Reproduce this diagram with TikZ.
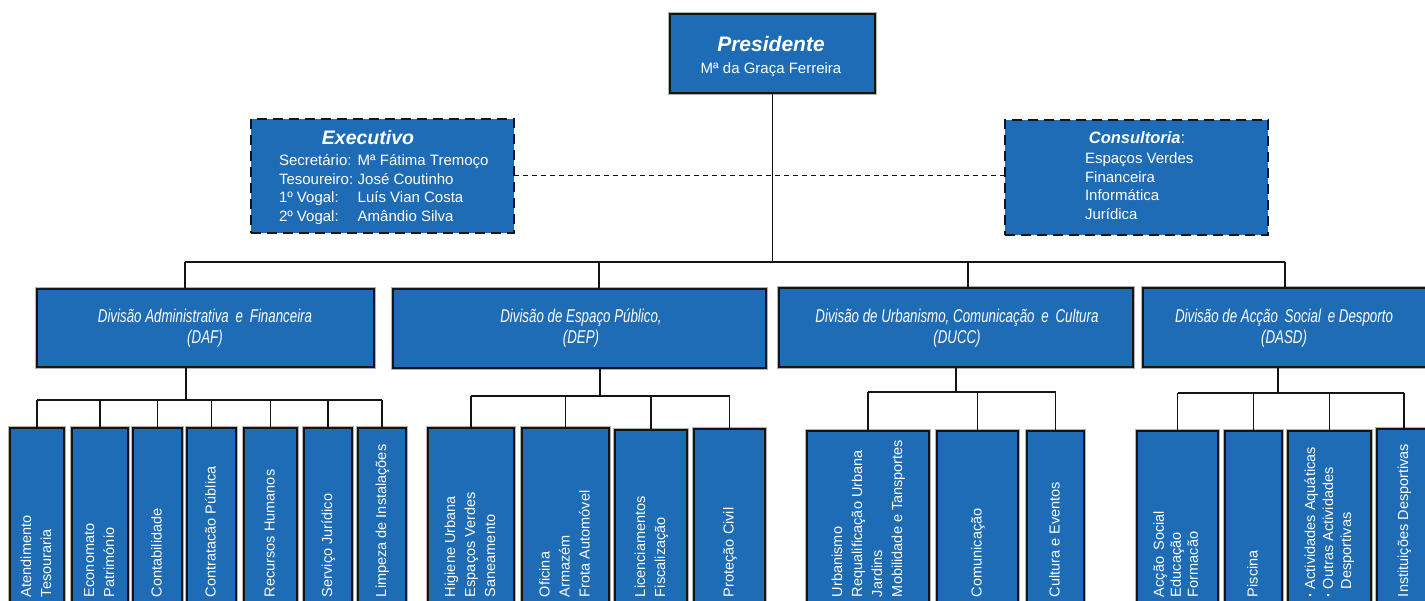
\documentclass[tikz,border=0pt]{standalone}
\usepackage{fontspec}
\setmainfont{Liberation Sans}
\newfontfamily\divfont[FakeStretch=0.72]{Liberation Sans}
\definecolor{boxblue}{RGB}{30,107,182}
\definecolor{linecol}{RGB}{20,20,20}
\tikzset{
  box/.style={fill=boxblue, draw=linecol, line width=1.1pt, outer sep=0pt, inner sep=0pt,
    anchor=north west, preaction={draw=gray!60, line width=3.2pt}},
  dbox/.style={fill=boxblue, draw=linecol, line width=2pt, dash pattern=on 10pt off 6pt,
    outer sep=0pt, inner sep=0pt, anchor=north west},
  conn/.style={draw=linecol, line width=1.7pt},
  dconn/.style={draw=linecol, line width=1pt, dash pattern=on 5pt off 4pt},
  wtext/.style={text=white, inner sep=0pt, outer sep=0pt},
  vtext/.style={wtext, rotate=90, anchor=west, font=\fontsize{14.5}{20}\selectfont},
  divtext/.style={wtext, font=\divfont\itshape\fontsize{18.5}{21}\selectfont}
}
\newcommand{\rl}[1]{\begin{tabular}{@{}l@{}}#1\end{tabular}}
\begin{document}
\begin{tikzpicture}[x=1pt,y=-1pt]
\useasboundingbox (0,0) rectangle (1425,601);
\clip (0,0) rectangle (1425,601);
\fill[white] (0,0) rectangle (1425,601);

% ---------- top level ----------
\node[box, minimum width=205pt, minimum height=79pt] (pres) at (670,14) {};
\node[wtext, font=\bfseries\itshape\fontsize{21}{25}\selectfont] (prest) at (771,44) {Presidente};
\node[wtext, font=\fontsize{15}{18}\selectfont] (presn) at (771,70) {Mª da Graça Ferreira};

\node[dbox, minimum width=263pt, minimum height=114pt] (exec) at (251,119) {};
\node[wtext, font=\bfseries\itshape\fontsize{19.5}{23}\selectfont] (exect) at (368,138) {Executivo};
\node[wtext, anchor=base west, font=\fontsize{15}{18.7}\selectfont] (execl) at (279,165.5)
  {\begin{tabular}[t]{@{}l@{\hspace{4.5pt}}l@{}}
   Secretário: & Mª Fátima Tremoço\\
   Tesoureiro: & José Coutinho\\
   1º Vogal: & Luís Vian Costa\\
   2º Vogal: & Amândio Silva
   \end{tabular}};

\node[dbox, minimum width=263pt, minimum height=115pt] (cons) at (1005,120) {};
\node[wtext, font=\fontsize{16.5}{20}\selectfont] (const) at (1137,138) {\textbf{\textit{Consultoria}}:};
\node[wtext, anchor=base west, font=\fontsize{15}{18.7}\selectfont] (consl) at (1085,163.5)
  {\begin{tabular}[t]{@{}l@{}}
   Espaços Verdes\\ Financeira\\ Informática\\ Jurídica
   \end{tabular}};

\draw[dconn] (exec.east) -- (exec.east -| cons.west);

% ---------- divisions ----------
\node[box, minimum width=337pt, minimum height=78pt] (daf) at (37,289) {};
\node[box, minimum width=373pt, minimum height=79pt] (dep) at (393,289) {};
\node[box, minimum width=354pt, minimum height=79pt] (ducc) at (779,288) {};
\node[box, minimum width=300pt, minimum height=79pt] (dasd) at (1143,288) {};

\node[divtext] (daft) at (205,328.5) {\begin{tabular}{@{}c@{}}Divisão Administrativa\, e\, Financeira\\(DAF)\end{tabular}};
\node[divtext] (dept) at (581,328.5) {\begin{tabular}{@{}c@{}}Divisão de Espaço Público,\\(DEP)\end{tabular}};
\node[divtext] (ducct) at (957,328.5) {\begin{tabular}{@{}c@{}}Divisão de Urbanismo, Comunicação\, e\, Cultura\\(DUCC)\end{tabular}};
\node[divtext] (dasdt) at (1284,328.5) {\begin{tabular}{@{}c@{}}Divisão de Acção\, Social\, e Desporto\\(DASD)\end{tabular}};

% main bus
\coordinate (bus) at (771,262);
\draw[conn] (pres.south) -- (pres.south |- bus);
\coordinate (t1) at (185,262);
\coordinate (t2) at (599,262);
\coordinate (t3) at (968,262);
\coordinate (t4) at (1285,262);
\draw[conn] (t1) -- (t4);
\draw[conn] (t1) -- (t1 |- daf.north);
\draw[conn] (t2) -- (t2 |- dep.north);
\draw[conn] (t3) -- (t3 |- ducc.north);
\draw[conn] (t4) -- (t4 |- dasd.north);

% ---------- DAF units ----------
\node[box, minimum width=54pt, minimum height=220pt] (a1) at (10,428) {};
\node[box, minimum width=56pt, minimum height=220pt] (a2) at (72,428) {};
\node[box, minimum width=49pt, minimum height=220pt] (a3) at (133,428) {};
\node[box, minimum width=49pt, minimum height=220pt] (a4) at (187,428) {};
\node[box, minimum width=53pt, minimum height=220pt] (a5) at (244,428) {};
\node[box, minimum width=48pt, minimum height=220pt] (a6) at (304,428) {};
\node[box, minimum width=48pt, minimum height=220pt] (a7) at (358,428) {};
\coordinate (dafbus) at (186,400);
\draw[conn] (dafbus |- daf.south) -- (dafbus);
\draw[conn] (a1.north |- dafbus) -- (a7.north |- dafbus);
\foreach \n in {a1,a2,a3,a4,a5,a6,a7} \draw[conn] (\n.north |- dafbus) -- (\n.north);

% ---------- DEP units ----------
\node[box, minimum width=86pt, minimum height=220pt] (e1) at (428,428) {};
\node[box, minimum width=87pt, minimum height=220pt] (e2) at (522,428) {};
\node[box, minimum width=72pt, minimum height=220pt] (e3) at (615,430) {};
\node[box, minimum width=71pt, minimum height=220pt] (e4) at (694,429) {};
\coordinate (depbus) at (600,396);
\draw[conn] (depbus |- dep.south) -- (depbus);
\draw[conn] (e1.north |- depbus) -- (e4.north |- depbus);
\foreach \n in {e1,e2,e3,e4} \draw[conn] (\n.north |- depbus) -- (\n.north);

% ---------- DUCC units ----------
\node[box, minimum width=122pt, minimum height=220pt] (u1) at (807,431) {};
\node[box, minimum width=81pt, minimum height=220pt] (u2) at (937,431) {};
\node[box, minimum width=57pt, minimum height=220pt] (u3) at (1027,431) {};
\coordinate (duccbus) at (956,392);
\draw[conn] (duccbus |- ducc.south) -- (duccbus);
\draw[conn] (u1.north |- duccbus) -- (u3.north |- duccbus);
\foreach \n in {u1,u2,u3} \draw[conn] (\n.north |- duccbus) -- (\n.north);

% ---------- DASD units ----------
\node[box, minimum width=81pt, minimum height=220pt] (s1) at (1137,431) {};
\node[box, minimum width=57pt, minimum height=220pt] (s2) at (1225,431) {};
\node[box, minimum width=83pt, minimum height=220pt] (s3) at (1288,431) {};
\node[box, minimum width=54pt, minimum height=220pt] (s4) at (1377,429) {};
\coordinate (dasdbus) at (1278,393);
\draw[conn] (dasdbus |- dasd.south) -- (dasdbus);
\draw[conn] (s1.north |- dasdbus) -- (s4.north |- dasdbus);
\foreach \n in {s1,s2,s3,s4} \draw[conn] (\n.north |- dasdbus) -- (\n.north);

% ---------- vertical labels ----------
\coordinate (base) at (0,597);
\node[vtext] (a1t) at (a1.north |- base) {\rl{Atendimento\\Tesouraria}};
\node[vtext] (a2t) at (a2.north |- base) {\rl{Economato\\Património}};
\node[vtext] (a3t) at (a3.north |- base) {\rl{Contabilidade}};
\node[vtext] (a4t) at (a4.north |- base) {\rl{Contratacão Pública}};
\node[vtext] (a5t) at (a5.north |- base) {\rl{Recursos Humanos}};
\node[vtext] (a6t) at (a6.north |- base) {\rl{Serviço Jurídico}};
\node[vtext] (a7t) at (a7.north |- base) {\rl{Limpeza de Instalações}};

\node[vtext] (e1t) at (e1.north |- base) {\rl{Higiene Urbana\\Espaços Verdes\\Saneamento}};
\node[vtext] (e2t) at (e2.north |- base) {\rl{Oficina\\Armazém\\Frota Automóvel}};
\node[vtext] (e3t) at (e3.north |- base) {\rl{Licenciamentos\\Fiscalização}};
\node[vtext] (e4t) at (e4.north |- base) {\rl{Proteção Civil}};

\node[vtext] (u1t) at (u1.north |- base) {\rl{Urbanismo\\Requalificação Urbana\\Jardins\\Mobilidade e Tansportes}};
\node[vtext] (u2t) at (u2.north |- base) {\rl{Comunicação}};
\node[vtext] (u3t) at (u3.north |- base) {\rl{Cultura e Eventos}};

\node[vtext, font=\fontsize{14.5}{17}\selectfont] (s1t) at (s1.north |- base) {\rl{Acção\, Social\\Educação\\Formacão}};
\node[vtext] (s2t) at (s2.north |- base) {\rl{Piscina}};
\node[vtext, font=\fontsize{14.5}{18}\selectfont] (s3t) at (s3.north |- base) {\rl{\makebox[8pt][l]{\textbf{·}}Actividades Aquáticas\\\makebox[8pt][l]{\textbf{·}}Outras Actividades\\\hspace*{8pt}Desportivas}};
\node[vtext] (s4t) at (s4.north |- base) {\rl{Instituições Desportivas}};
\end{tikzpicture}
\end{document}
